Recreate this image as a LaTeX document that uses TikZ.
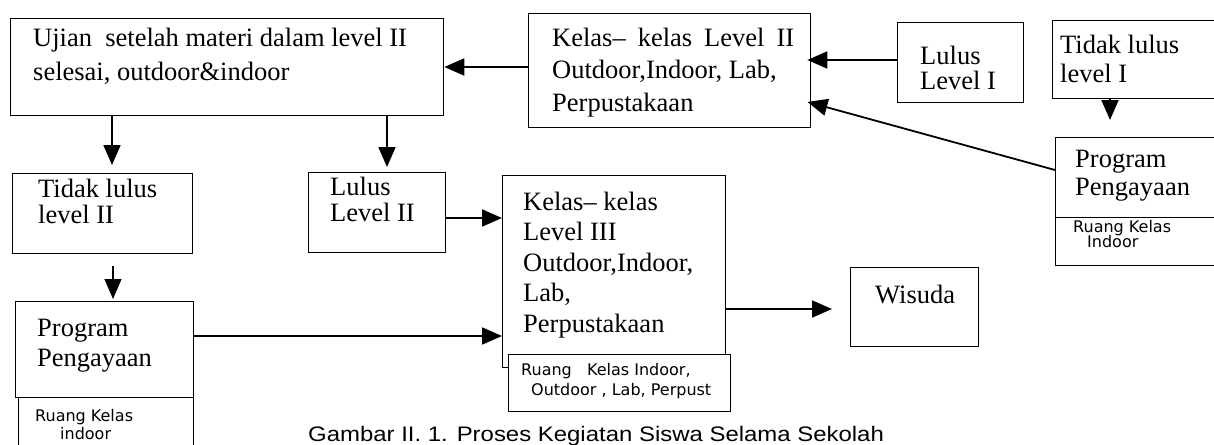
\documentclass[tikz,border=0pt]{standalone}
\usepackage{fontspec}
\setmainfont{Liberation Serif}
\newfontfamily\capfont[FakeStretch=1.14]{Liberation Sans}
\newfontfamily\handfont{DejaVu Sans}
\usetikzlibrary{arrows.meta}
\newcommand{\mlines}[1]{\vtop{\lineskiplimit=-100pt\lineskip=0pt\halign{##\hfil\cr#1\crcr}}}
\tikzset{
  bx/.style={draw, line width=1.3pt, anchor=north west, inner sep=0pt},
  sub/.style={bx, fill=white},
  txt/.style={inner sep=0pt, anchor=base west, font=\fontsize{26.5}{#1}\selectfont},
  txt/.default=31,
  hand/.style={inner sep=0pt, anchor=base west, font=\handfont\fontsize{16}{#1}\selectfont},
  hand/.default=14,
  arr/.style={line width=1.8pt, -{Triangle[length=20pt,width=17pt]}},
}
\begin{document}
\begin{tikzpicture}[x=1pt,y=-1pt]
\useasboundingbox (0,0) rectangle (1214,444);
\clip (0,0) rectangle (1214,444);
% boxes
\node[bx, minimum width=433pt, minimum height=97pt]  (A)   at (10,18)   {};
\node[bx, minimum width=282pt, minimum height=114pt] (K2)  at (528,13)  {};
\node[bx, minimum width=126pt, minimum height=80pt]  (L1)  at (897,22)  {};
\node[bx, minimum width=180pt, minimum height=78pt]  (TL1) at (1052,20) {};
\node[bx, minimum width=180pt, minimum height=80pt]  (PR)  at (1055,137) {};
\node[sub, minimum width=180pt, minimum height=48pt] (PRs) at (1055,217) {};
\node[bx, minimum width=180pt, minimum height=80pt]  (TL2) at (12,173)  {};
\node[bx, minimum width=137pt, minimum height=80pt]  (LL2) at (308,172) {};
\node[bx, minimum width=223pt, minimum height=192pt] (K3)  at (502,175) {};
\node[sub, minimum width=222pt, minimum height=57pt] (K3s) at (508,354) {};
\node[bx, minimum width=128pt, minimum height=79pt]  (W)   at (850,267) {};
\node[bx, minimum width=178pt, minimum height=96pt]  (PP)  at (15,301)  {};
\node[sub, minimum width=175pt, minimum height=70pt] (PPs) at (18,397)  {};
% texts
\node[txt=33] (tA)  at (33,47)  {\mlines{Ujian\ \ setelah materi dalam level II\cr selesai, outdoor\&indoor}};
\node[txt=32] (tK2) at (552,47) {\mlines{\makebox[242pt][s]{Kelas– kelas Level II}\cr Outdoor,Indoor, Lab,\cr Perpustakaan}};
\node[txt=25] (tL1) at (920,64) {\mlines{Lulus\cr Level I}};
\node[txt=29] (tTL1) at (1060,53) {\mlines{Tidak lulus\cr level I}};
\node[txt=28] (tPR) at (1075,167) {\mlines{Program\cr Pengayaan}};
\node[hand=15] (tPRs) at (1073,232) {\mlines{Ruang Kelas\cr\kern14pt Indoor}};
\node[txt=26] (tTL2) at (38,197) {\mlines{Tidak lulus\cr level II}};
\node[txt=26] (tLL2) at (330,195) {\mlines{Lulus\cr Level II}};
\node[txt=30.5] (tK3) at (523,210) {\mlines{Kelas– kelas\cr Level III\cr Outdoor,Indoor,\cr Lab,\cr Perpustakaan}};
\node[hand=20] (tK3s) at (521,375) {\mlines{Ruang\ \ \ Kelas Indoor,\cr\kern10pt Outdoor , Lab, Perpust}};
\node[txt] (tW) at (875,303) {Wisuda};
\node[txt=30] (tPP) at (37,336) {\mlines{Program\cr Pengayaan}};
\node[hand=18] (tPPs) at (35,421) {\mlines{Ruang Kelas\cr\kern25pt indoor}};
\node[inner sep=0pt, anchor=base west, font=\capfont\fontsize{21}{25}\selectfont] (cap) at (308,441)
  {Gambar II. 1. Proses Kegiatan Siswa Selama Sekolah};
% connectors
\draw[arr] (K2.west |- 0,67) -- (A.east |- 0,67);
\draw[arr, shorten >=8pt] (A.south -| 112,0) -- (TL2.north -| 112,0);
\draw[arr, shorten >=5pt] (A.south -| 387,0) -- (LL2.north -| 387,0);
\draw[arr, shorten >=-4pt] (L1.west |- 0,60) -- (K2.east |- 0,60);
\draw[arr, shorten >=17pt] (TL1.south -| 1110,0) -- (PR.north -| 1110,0);
\draw[arr, shorten >=-4pt] (PR.west |- 0,170) -- (K2.east |- 0,103);
\draw[arr] (LL2.east |- 0,218) -- (K3.west |- 0,218);
\draw[arr, line width=1.2pt, shorten <=12pt, shorten >=2pt] (TL2.south -| 113,0) -- (PP.north -| 113,0);
\draw[arr] (PP.east |- 0,336) -- (K3.west |- 0,336);
\draw[arr, shorten >=18pt] (K3.east |- 0,309) -- (W.west |- 0,309);
\end{tikzpicture}
\end{document}
